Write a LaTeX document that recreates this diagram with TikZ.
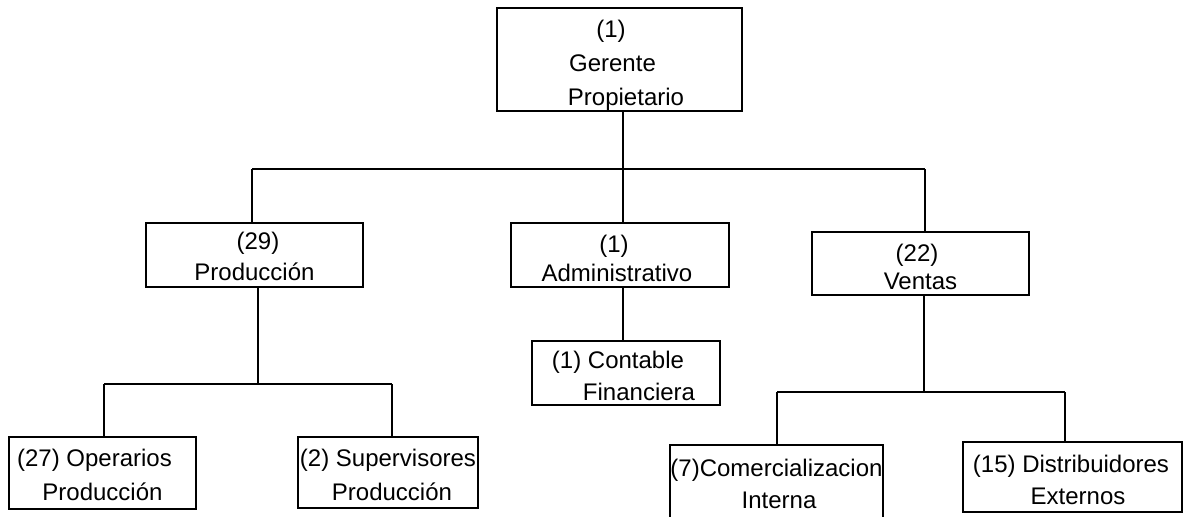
\documentclass[tikz,border=0pt]{standalone}
\usepackage{fontspec}
\setmainfont{Liberation Sans}
\newcommand{\topgap}[1]{\rule{0pt}{#1}}

\begin{document}
\begin{tikzpicture}[
  x=0.6pt, y=-0.6pt,
  every node/.style={font=\fontsize{14.4}{19.2}\selectfont},
  unit/.style={draw, line width=1.2pt, inner sep=0pt, align=center},
  boxsize/.style 2 args={minimum width=#1*0.6pt, minimum height=#2*0.6pt},
  rowgap/.style={font=\fontsize{14.4}{#1}\selectfont},
  link/.style={line width=1.2pt}
]
\useasboundingbox (0,0) rectangle (1187,516);
\clip (0,0) rectangle (1187,516);
% units
\node[unit, boxsize={245}{103}, rowgap=20.4pt] (gerente) at (619.5,59.5)
  {\topgap{16.8pt}\hspace*{-10.2pt}(1)\\ \hspace*{-8.4pt}Gerente\\
   \hspace*{7.8pt}Propietario};
\node[unit, boxsize={217}{64}, rowgap=18.6pt] (prod) at (254.5,255)
  {\topgap{12.6pt}\hspace*{4.2pt}(29)\\ Producción};
\node[unit, boxsize={218}{64}, rowgap=17.4pt] (admin) at (620,255)
  {\topgap{15pt}\hspace*{-7.2pt}(1)\\ \hspace*{-3.6pt}Administrativo};
\node[unit, boxsize={217}{63}, rowgap=16.8pt] (ventas) at (920.5,263.5)
  {\topgap{15pt}\hspace*{-4.2pt}(22)\\ Ventas};
\node[unit, boxsize={188}{64}] (contable) at (626,373)
  {\topgap{14.4pt}\hspace*{-9.6pt}(1) Contable\\ \hspace*{15.6pt}Financiera};
\node[unit, boxsize={187}{72}, rowgap=20.4pt] (operarios) at (102.5,473)
  {\topgap{13.2pt}\hspace*{-9.6pt}(27) Operarios\\ Producción};
\node[unit, boxsize={180}{71}, rowgap=20.4pt] (supervisores) at (388,472.5)
  {\topgap{13.8pt}(2) Supervisores\\ \hspace*{4.8pt}Producción};
\node[unit, boxsize={211}{77}] (comercial) at (776.5,483.5)
  {(7)Comercializacion\\ \hspace*{3pt}Interna};
\node[unit, boxsize={219}{70}] (distrib) at (1072.5,477)
  {\topgap{14.4pt}\hspace*{-1.8pt}(15) Distribuidores\\ \hspace*{6.6pt}Externos};
% buses
\coordinate (spineG) at (623,169);
\coordinate (busGL) at (252,169);
\coordinate (busGR) at (925,169);
\coordinate (spineP) at (258,384);
\coordinate (busPL) at (104,384);
\coordinate (busPR) at (392,384);
\coordinate (spineV) at (924,392);
\coordinate (busVL) at (777,392);
\coordinate (busVR) at (1065,392);
% connectors
\draw[link] (busGL) -- (busGR);
\draw[link] (spineG |- gerente.south) -- (spineG |- admin.north);
\draw[link] (busGL) -- (busGL |- prod.north);
\draw[link] (busGR) -- (busGR |- ventas.north);
\draw[link] (spineG |- admin.south) -- (spineG |- contable.north);
\draw[link] (busPL) -- (busPR);
\draw[link] (spineP |- prod.south) -- (spineP);
\draw[link] (busPL) -- (busPL |- operarios.north);
\draw[link] (busPR) -- (busPR |- supervisores.north);
\draw[link] (busVL) -- (busVR);
\draw[link] (spineV |- ventas.south) -- (spineV);
\draw[link] (busVL) -- (busVL |- comercial.north);
\draw[link] (busVR) -- (busVR |- distrib.north);
\end{tikzpicture}
\end{document}
